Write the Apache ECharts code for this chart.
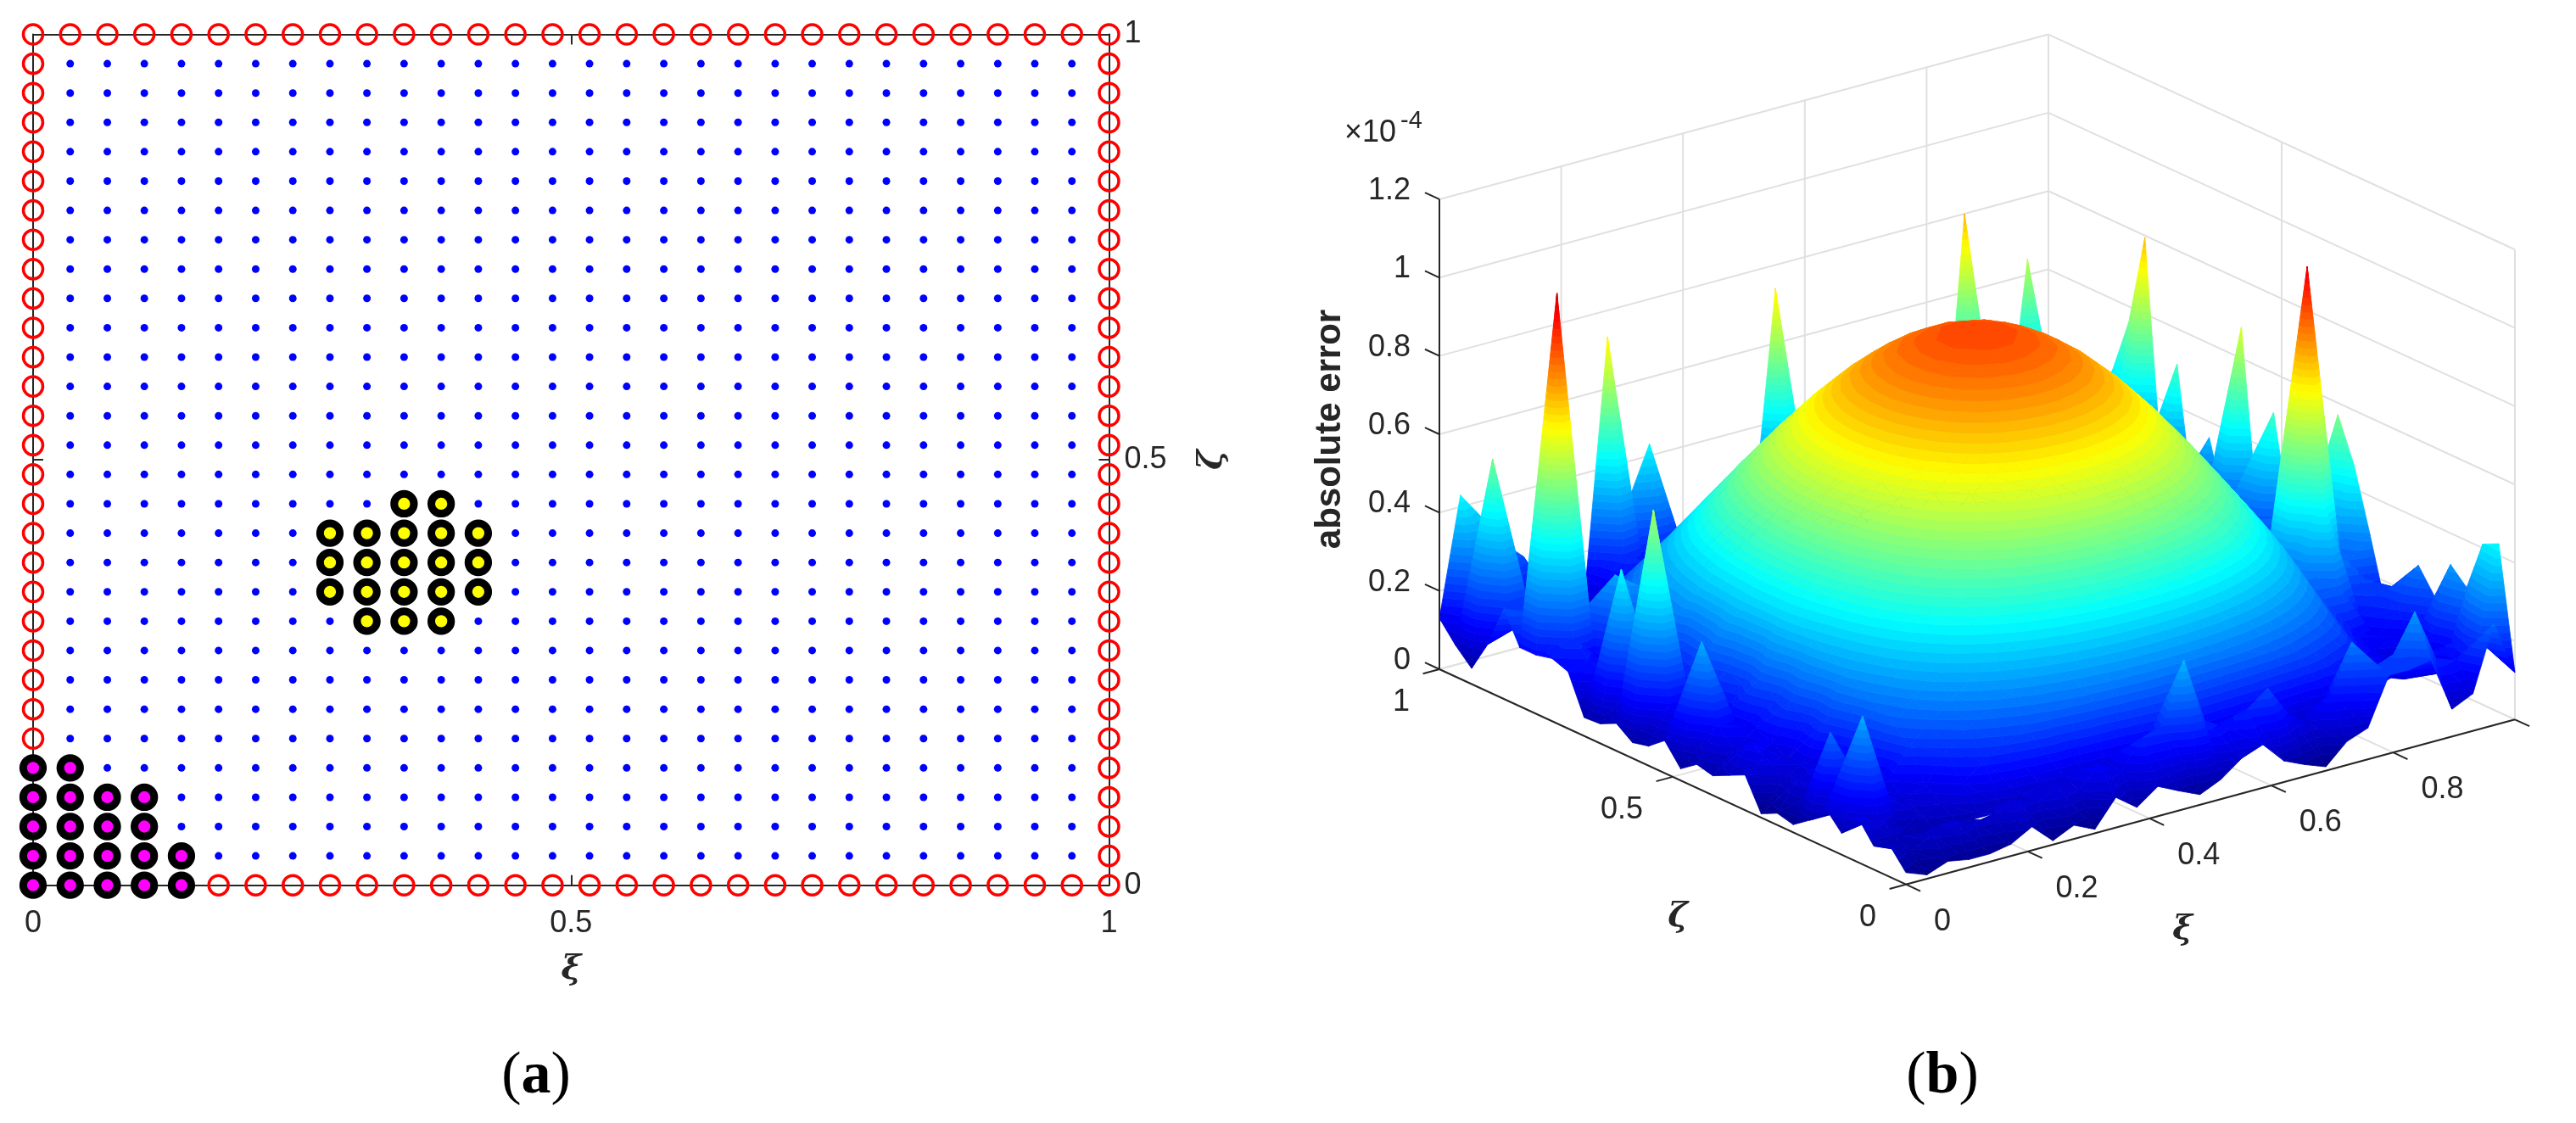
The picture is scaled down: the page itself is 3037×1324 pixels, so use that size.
<!DOCTYPE html>
<html>
<head>
<meta charset="utf-8">
<title>collocation nodes and absolute error</title>
<style>
  html, body { margin: 0; padding: 0; background: #fff; }
  #chart { width: 3037px; height: 1324px; }
</style>
<script src="https://cdn.jsdelivr.net/npm/echarts@6/dist/echarts.min.js"></script>
</head>
<body>
<div id="chart"></div>
<script>
// node coordinates shared by both panels
const nodeCoords = [0, 0.0345, 0.069, 0.1034, 0.1379, 0.1724, 0.2069, 0.2414, 0.2759, 0.3103,
  0.3448, 0.3793, 0.4138, 0.4483, 0.4828, 0.5172, 0.5517, 0.5862, 0.6207, 0.6552,
  0.6897, 0.7241, 0.7586, 0.7931, 0.8276, 0.8621, 0.8966, 0.931, 0.9655, 1]

// panel (a): node patches, as [xi index, zeta index]
const magentaNodes = [
  [0, 0], [1, 0], [2, 0], [3, 0], [4, 0],
  [0, 1], [1, 1], [2, 1], [3, 1], [4, 1],
  [0, 2], [1, 2], [2, 2], [3, 2],
  [0, 3], [1, 3], [2, 3], [3, 3],
  [0, 4], [1, 4]
]
const yellowNodes = [
  [10, 13], [11, 13],
  [8, 12], [9, 12], [10, 12], [11, 12], [12, 12],
  [8, 11], [9, 11], [10, 11], [11, 11], [12, 11],
  [8, 10], [9, 10], [10, 10], [11, 10], [12, 10],
  [9, 9], [10, 9], [11, 9]
]

// panel (b): absolute error in units of 1e-4, one row per zeta node, one column per xi node
const errorRows = [
  [.03, .01, .03, .02, .02, .03, .06, .01, .035, .01, .077, .037, .076, .05, .026, .05, .09, .11, .054, .03, .01, .06, .08, .2, .2, .21, .07, .095, .26, .12],
  [.08, .05, .08, .1, .08, .09, .11, .09, .11, .09, .14, .11, .18, .2, .35, .18, .15, .18, .22, .14, .1, .16, .28, .2, .22, .314, .18, .16, .2, .43],
  [.06, .07, .06, .05, .06, .07, .08, .09, .1, .11, .1, .12, .12, .14, .15, .14, .13, .12, .11, .1, .09, .08, .09, .1, .12, .14, .12, .11, .18, .41],
  [.115, .1, .05, .08, .09, .13, .17, .2, .226, .246, .262, .276, .286, .293, .297, .297, .293, .286, .276, .262, .246, .226, .2, .17, .14, .11, .09, .14, .11, .28],
  [.055, .34, .12, .1, .12, .19, .237, .269, .298, .324, .345, .363, .377, .386, .39, .39, .386, .377, .363, .345, .324, .298, .269, .237, .202, .14, .12, .1, .16, .32],
  [.1, .08, .1, .13, .2, .247, .29, .329, .365, .396, .423, .445, .462, .473, .478, .478, .473, .462, .445, .423, .396, .365, .329, .29, .247, .17, .12, .14, .12, .22],
  [.05, .26, .09, .1, .24, .29, .341, .387, .429, .466, .497, .523, .543, .556, .562, .562, .556, .543, .523, .497, .466, .429, .387, .341, .29, .2, .15, .12, .18, .28],
  [.02, .09, .07, .14, .26, .33, .387, .44, .488, .53, .565, .595, .617, .632, .639, .639, .632, .617, .595, .565, .53, .488, .44, .387, .33, .24, .25, .16, .2, .2],
  [.03, .1, .12, .15, .29, .366, .429, .488, .54, .587, .626, .659, .683, .7, .708, .708, .7, .683, .659, .626, .587, .54, .488, .429, .366, .28, .45, .2, .22, .13],
  [.01, .08, .11, .2, .32, .397, .466, .53, .587, .637, .68, .715, .742, .76, .769, .769, .76, .742, .715, .68, .637, .587, .53, .466, .397, .3, 1.03, .3, .25, .3],
  [.09, .12, .1, .18, .34, .424, .497, .565, .626, .68, .726, .764, .792, .811, .821, .821, .811, .792, .764, .726, .68, .626, .565, .497, .424, .33, .3, .25, .28, .46],
  [.07, .14, .13, .22, .36, .445, .523, .594, .659, .715, .763, .803, .833, .853, .863, .863, .853, .833, .803, .763, .715, .659, .594, .523, .445, .36, .28, .22, .3, .57],
  [.05, .1, .14, .2, .38, .462, .542, .616, .683, .742, .792, .833, .864, .884, .895, .895, .884, .864, .833, .792, .742, .683, .616, .542, .462, .38, .26, .2, .25, .4],
  [.06, .15, .12, .24, .39, .473, .556, .631, .7, .76, .811, .853, .885, .906, .917, .917, .906, .885, .853, .811, .76, .7, .631, .556, .473, .39, .3, .24, .22, .2],
  [.03, .34, .13, .2, .39, .478, .562, .639, .708, .769, .821, .863, .895, .917, .928, .928, .917, .895, .863, .821, .769, .708, .639, .562, .478, .39, .28, .2, .26, .25],
  [.083, .12, .15, .22, .39, .478, .562, .639, .708, .769, .821, .863, .895, .917, .928, .928, .917, .895, .863, .821, .769, .708, .639, .562, .478, .39, .3, .22, .24, .5],
  [.05, .14, .12, .26, .38, .473, .556, .631, .7, .76, .811, .853, .885, .906, .917, .917, .906, .885, .853, .811, .76, .7, .631, .556, .473, .38, .28, .26, .3, .22],
  [.04, .62, .14, .22, .37, .462, .542, .616, .683, .742, .792, .833, .864, .884, .895, .895, .884, .864, .833, .792, .742, .683, .616, .542, .462, .37, .26, .24, .28, .68],
  [.07, .16, .12, .2, .36, .445, .523, .594, .659, .715, .763, .803, .833, .853, .863, .863, .853, .833, .803, .763, .715, .659, .594, .523, .445, .36, .25, .2, .22, .2],
  [.05, .43, .13, .24, .34, .424, .497, .565, .626, .68, .726, .764, .792, .811, .821, .821, .811, .792, .764, .726, .68, .626, .565, .497, .424, .34, .24, .22, .2, .36],
  [.047, .14, .11, .2, .32, .397, .466, .53, .587, .637, .68, .715, .742, .76, .769, .769, .76, .742, .715, .68, .637, .587, .53, .466, .397, .32, .22, .18, .2, .18],
  [.145, .16, .12, .22, .29, .366, .429, .488, .54, .587, .626, .659, .683, .7, .708, .708, .7, .683, .659, .626, .587, .54, .488, .429, .366, .29, .2, .2, .22, .51],
  [.16, .2, .14, .33, .26, .33, .387, .44, .488, .53, .565, .595, .617, .632, .639, .639, .632, .617, .595, .565, .53, .488, .44, .387, .33, .26, .2, .22, .24, .25],
  [.15, 1.06, .22, .18, .24, .29, .341, .387, .429, .466, .497, .523, .543, .556, .562, .562, .556, .543, .523, .497, .466, .429, .387, .341, .29, .24, .22, .2, .26, .795],
  [.15, .22, .2, .16, .2, .247, .29, .329, .365, .396, .423, .445, .462, .473, .478, .478, .473, .462, .445, .423, .396, .365, .329, .29, .247, .2, .18, .16, .22, .56],
  [.23, .18, .22, .14, .13, .202, .237, .269, .298, .324, .345, .363, .377, .386, .39, .39, .386, .377, .363, .345, .324, .298, .269, .237, .202, .16, .14, .12, .18, .42],
  [.12, .2, .18, .2, .12, .153, .18, .204, .226, .246, .262, .276, .286, .293, .297, .297, .293, .286, .276, .262, .246, .226, .204, .18, .153, .13, .12, .1, .14, .3],
  [.04, .56, .16, .12, .1, .1, .12, .14, .15, .16, .17, .18, .19, .2, .2, .2, .2, .19, .18, .17, .16, .15, .14, .12, .1, .12, .1, .12, .16, .2],
  [.08, .2, .24, .14, .13, .1, .1, .12, .2, .12, .15, .14, .1, .12, .14, .16, .25, .15, .12, .1, .12, .12, .14, .15, .16, .2, .16, .18, .22, .15],
  [.13, .43, .36, .28, .23, .1, .08, .14, .733, .3, .43, .2, .1, .12, .15, .2, .74, .25, .12, .1, .15, .12, .14, .12, .15, .8, .25, .2, .64, .1]
]

// tick values
const planTicks = [0, 0.5, 1]
const xiTicks = [0, 0.2, 0.4, 0.6, 0.8, 1]
const xiLabelTicks = [0, 0.2, 0.4, 0.6, 0.8]
const zetaTicks = [0, 0.5, 1]
const errorTicks = [0, 0.2, 0.4, 0.6, 0.8, 1, 1.2]

const TEXT_COLOR = '#262626'
const GRID_COLOR = '#e0e0e0'
const SANS = '"Liberation Sans", Arial, sans-serif'
const SERIF = '"Liberation Serif", "Times New Roman", serif'
const GREEK = '"DejaVu Serif", serif'

// colour limit of the surface and number of colormap steps
const COLOR_MAX = 1.15
const COLOR_STEPS = 64

// panel (a) node sets
const isIn = (list, i, j) => list.some(p => p[0] === i && p[1] === j)
const lastNode = nodeCoords.length - 1
const boundaryPoints = []
const interiorPoints = []
nodeCoords.forEach((xi, i) => {
  nodeCoords.forEach((zeta, j) => {
    if (isIn(magentaNodes, i, j) || isIn(yellowNodes, i, j)) return
    if (i === 0 || j === 0 || i === lastNode || j === lastNode) {
      boundaryPoints.push([xi, zeta])
    } else {
      interiorPoints.push([xi, zeta])
    }
  })
})
const toPoint = p => [nodeCoords[p[0]], nodeCoords[p[1]]]

// panel (b) oblique projection into the hidden plane axes
const project = (xi, zeta, z) => [
  2247 + 718 * xi - 550 * zeta,
  1042.7 - 194.4 * xi - 253.7 * zeta - 461.7 * z
]

// jet colormap
const jetChannel = v => Math.round(255 * Math.max(0, Math.min(1, v)))
const jetColor = f => {
  const r = jetChannel(1.5 - Math.abs(4 * f - 3))
  const g = jetChannel(1.5 - Math.abs(4 * f - 2))
  const b = jetChannel(1.5 - Math.abs(4 * f - 1))
  return `rgb(${r},${g},${b})`
}

// split each grid cell along the diagonal facing the viewer, far cells first
const triangles = []
const vertex = (i, j) => [nodeCoords[i], nodeCoords[j], errorRows[j][i]]
for (let i = lastNode - 1; i >= 0; i--) {
  for (let j = lastNode - 1; j >= 0; j--) {
    triangles.push([vertex(i + 1, j), vertex(i + 1, j + 1), vertex(i, j + 1)])
    triangles.push([vertex(i, j), vertex(i + 1, j), vertex(i, j + 1)])
  }
}

// keep the part of a polygon on one side of a height level
const clipByHeight = (poly, level, keepAbove) => {
  const out = []
  poly.forEach((a, k) => {
    const b = poly[(k + 1) % poly.length]
    const aIn = keepAbove ? a[2] >= level : a[2] <= level
    const bIn = keepAbove ? b[2] >= level : b[2] <= level
    if (aIn) out.push(a)
    if (aIn !== bIn) {
      const t = (level - a[2]) / (b[2] - a[2])
      out.push([a[0] + (b[0] - a[0]) * t, a[1] + (b[1] - a[1]) * t, level])
    }
  })
  return out
}

const renderTriangle = (params, api) => {
  const tri = triangles[params.dataIndex]
  const step = COLOR_MAX / COLOR_STEPS
  const heights = tri.map(v => v[2])
  const first = Math.floor(Math.min(...heights) / step)
  const last = Math.floor(Math.max(...heights) / step)
  const children = []
  for (let band = first; band <= last; band++) {
    let poly = clipByHeight(tri, band * step, true)
    if (poly.length) poly = clipByHeight(poly, (band + 1) * step, false)
    if (poly.length < 3) continue
    const color = jetColor((Math.min(band, COLOR_STEPS - 1) + 0.5) / COLOR_STEPS)
    children.push({
      type: 'polygon',
      shape: { points: poly.map(v => api.coord(project(v[0], v[1], v[2]))) },
      style: { fill: color, stroke: color, lineWidth: 0.8 },
      silent: true
    })
  }
  return { type: 'group', children }
}

// 3D grid lines on the floor and the two back walls
const wallSegments = []
xiTicks.forEach(t => {
  wallSegments.push([[t, 0, 0], [t, 1, 0]])
  wallSegments.push([[t, 1, 0], [t, 1, 1.2]])
})
zetaTicks.forEach(t => {
  wallSegments.push([[0, t, 0], [1, t, 0]])
  wallSegments.push([[1, t, 0], [1, t, 1.2]])
})
errorTicks.forEach(z => {
  wallSegments.push([[0, 1, z], [1, 1, z]])
  wallSegments.push([[1, 0, z], [1, 1, z]])
})

// 3D axis rulers and their tick marks
const rulerSegments = [
  [[0, 0, 0], [1, 0, 0]],
  [[0, 0, 0], [0, 1, 0]],
  [[0, 1, 0], [0, 1, 1.2]]
]
xiTicks.forEach(t => rulerSegments.push([[t, 0, 0], [t, -0.031, 0]]))
zetaTicks.forEach(t => rulerSegments.push([[0, t, 0], [-0.027, t, 0]]))
errorTicks.forEach(z => rulerSegments.push([[0, 1, z], [0, 1.031, z]]))

const segmentSeries = (segments, color, width, z) => ({
  type: 'custom',
  xAxisIndex: 2,
  yAxisIndex: 2,
  silent: true,
  animation: false,
  z,
  data: segments.map((s, k) => [k]),
  encode: { x: -1, y: -1 },
  renderItem: (params, api) => {
    const seg = segments[params.dataIndex]
    const a = api.coord(project(...seg[0]))
    const b = api.coord(project(...seg[1]))
    return {
      type: 'line',
      shape: { x1: a[0], y1: a[1], x2: b[0], y2: b[1] },
      style: { stroke: color, lineWidth: width, lineCap: 'butt' }
    }
  }
})

// tick labels of panel (b), anchored to the point where each tick starts
const tickLabels = []
xiLabelTicks.forEach(t => tickLabels.push({ at: [t, 0, 0], dx: 33, dy: 44, align: 'left', text: String(t) }))
zetaTicks.forEach(t => tickLabels.push({ at: [0, t, 0], dx: -35, dy: 39, align: 'right', text: String(t) }))
errorTicks.forEach(z => tickLabels.push({ at: [0, 1, z], dx: -34, dy: -10, align: 'right', text: String(z) }))

const chart = echarts.init(document.getElementById('chart'), null, { renderer: 'canvas' })

chart.setOption({
  backgroundColor: '#fff',
  animation: false,
  grid: [
    { left: 39, top: 40.5, width: 1268.5, height: 1003.2 },
    { left: 1500, top: 0, width: 1537, height: 1324 }
  ],
  xAxis: [
    {
      type: 'value', gridIndex: 0, position: 'bottom', min: 0, max: 1, interval: 0.5,
      name: 'ξ', nameLocation: 'middle', nameGap: 80,
      nameTextStyle: { fontFamily: GREEK, fontStyle: 'italic', fontWeight: 'bold', fontSize: 40, color: TEXT_COLOR },
      splitLine: { show: false },
      axisLine: { show: true, onZero: false, lineStyle: { color: TEXT_COLOR, width: 2 } },
      axisTick: { show: true, inside: true, length: 12, lineStyle: { color: TEXT_COLOR, width: 2 } },
      axisLabel: { margin: 27, fontFamily: SANS, fontSize: 36, color: TEXT_COLOR, formatter: v => String(v), customValues: planTicks }
    },
    {
      type: 'value', gridIndex: 0, position: 'top', min: 0, max: 1, interval: 0.5,
      splitLine: { show: false },
      axisLine: { show: true, onZero: false, lineStyle: { color: TEXT_COLOR, width: 2 } },
      axisTick: { show: true, inside: true, length: 12, lineStyle: { color: TEXT_COLOR, width: 2 } },
      axisLabel: { show: false }
    },
    { type: 'value', gridIndex: 1, min: 1500, max: 3037, show: false }
  ],
  yAxis: [
    {
      type: 'value', gridIndex: 0, position: 'right', min: 0, max: 1, interval: 0.5,
      name: 'ζ', nameLocation: 'middle', nameGap: 102, nameRotate: 90,
      nameTextStyle: { fontFamily: GREEK, fontStyle: 'italic', fontWeight: 'bold', fontSize: 40, color: TEXT_COLOR },
      splitLine: { show: false },
      axisLine: { show: true, onZero: false, lineStyle: { color: TEXT_COLOR, width: 2 } },
      axisTick: { show: true, inside: true, length: 12, lineStyle: { color: TEXT_COLOR, width: 2 } },
      axisLabel: { margin: 18, padding: [4, 0, 0, 0], fontFamily: SANS, fontSize: 36, color: TEXT_COLOR, formatter: v => String(v), customValues: planTicks }
    },
    {
      type: 'value', gridIndex: 0, position: 'left', min: 0, max: 1, interval: 0.5,
      splitLine: { show: false },
      axisLine: { show: true, onZero: false, lineStyle: { color: TEXT_COLOR, width: 2 } },
      axisTick: { show: true, inside: true, length: 12, lineStyle: { color: TEXT_COLOR, width: 2 } },
      axisLabel: { show: false }
    },
    { type: 'value', gridIndex: 1, min: 0, max: 1324, inverse: true, show: false }
  ],
  series: [
    // panel (a)
    {
      type: 'scatter', data: interiorPoints, symbolSize: 9, silent: true, clip: false,
      itemStyle: { color: '#0000ff', opacity: 1 }
    },
    {
      type: 'scatter', data: boundaryPoints, symbolSize: 23, silent: true, clip: false,
      itemStyle: { color: 'transparent', borderColor: '#ff0000', borderWidth: 3.5, opacity: 1 }
    },
    {
      type: 'scatter', data: magentaNodes.map(toPoint), symbolSize: 23.3, silent: true, clip: false,
      itemStyle: { color: '#ff00ff', borderColor: '#000', borderWidth: 9, opacity: 1 }
    },
    {
      type: 'scatter', data: yellowNodes.map(toPoint), symbolSize: 23.3, silent: true, clip: false,
      itemStyle: { color: '#ffff00', borderColor: '#000', borderWidth: 9, opacity: 1 }
    },
    // panel (b)
    segmentSeries(wallSegments, GRID_COLOR, 2, 1),
    {
      type: 'custom',
      xAxisIndex: 2,
      yAxisIndex: 2,
      silent: true,
      animation: false,
      progressive: 0,
      z: 2,
      data: triangles.map((t, k) => [k]),
      encode: { x: -1, y: -1 },
      renderItem: renderTriangle
    },
    segmentSeries(rulerSegments, TEXT_COLOR, 2, 3),
    {
      type: 'custom',
      xAxisIndex: 2,
      yAxisIndex: 2,
      silent: true,
      animation: false,
      z: 3,
      data: tickLabels.map((t, k) => [k]),
      encode: { x: -1, y: -1 },
      renderItem: (params, api) => {
        const item = tickLabels[params.dataIndex]
        const p = api.coord(project(...item.at))
        return {
          type: 'text',
          style: {
            x: p[0] + item.dx,
            y: p[1] + item.dy,
            text: item.text,
            fill: TEXT_COLOR,
            fontFamily: SANS,
            fontSize: 36,
            align: item.align,
            verticalAlign: 'middle'
          }
        }
      }
    }
  ],
  graphic: [
    {
      type: 'text', left: 1585, top: 139,
      style: { text: '×10', fill: TEXT_COLOR, fontFamily: SANS, fontSize: 36 }
    },
    {
      type: 'text', left: 1651, top: 128,
      style: { text: '-4', fill: TEXT_COLOR, fontFamily: SANS, fontSize: 29 }
    },
    {
      type: 'text', x: 1568, y: 506, rotation: Math.PI / 2,
      style: { text: 'absolute error', fill: TEXT_COLOR, fontFamily: SANS, fontWeight: 'bold', fontSize: 42, align: 'center', verticalAlign: 'middle' }
    },
    {
      type: 'text', x: 1978, y: 1082,
      style: { text: 'ζ', fill: TEXT_COLOR, fontFamily: GREEK, fontStyle: 'italic', fontWeight: 'bold', fontSize: 40, align: 'center', verticalAlign: 'middle' }
    },
    {
      type: 'text', x: 2573, y: 1097,
      style: { text: 'ξ', fill: TEXT_COLOR, fontFamily: GREEK, fontStyle: 'italic', fontWeight: 'bold', fontSize: 40, align: 'center', verticalAlign: 'middle' }
    },
    {
      type: 'text', x: 632, y: 1270,
      style: {
        text: '{p|(}{b|a}{p|)}', align: 'center', verticalAlign: 'middle',
        rich: {
          p: { fontFamily: SERIF, fontSize: 70, fill: '#000', color: '#000' },
          b: { fontFamily: SERIF, fontSize: 70, fontWeight: 'bold', fill: '#000', color: '#000' }
        }
      }
    },
    {
      type: 'text', x: 2290, y: 1270,
      style: {
        text: '{p|(}{b|b}{p|)}', align: 'center', verticalAlign: 'middle',
        rich: {
          p: { fontFamily: SERIF, fontSize: 70, fill: '#000', color: '#000' },
          b: { fontFamily: SERIF, fontSize: 70, fontWeight: 'bold', fill: '#000', color: '#000' }
        }
      }
    }
  ]
})
</script>
</body>
</html>
